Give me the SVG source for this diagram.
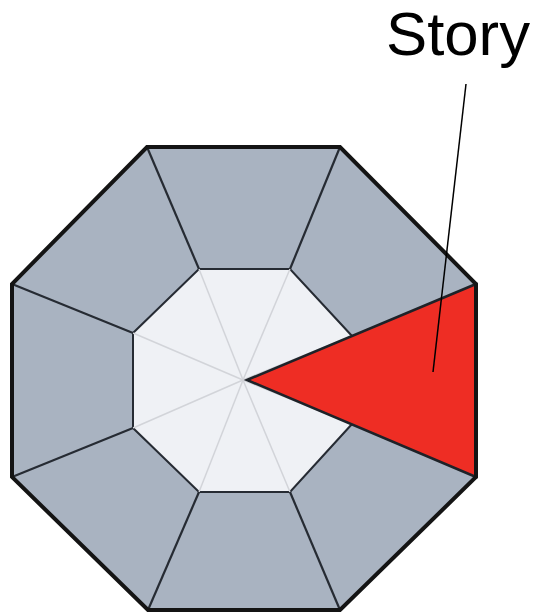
<svg xmlns="http://www.w3.org/2000/svg" width="533" height="614" viewBox="0 0 533 614">
<style>
.seg{fill:#a9b3c1;stroke:#262b33;stroke-width:2;stroke-linejoin:round}
.inner{fill:#eff1f5;stroke:#262b33;stroke-width:2}
.spoke{stroke:#d2d4d9;stroke-width:1.5}
.outer{fill:none;stroke:#141414;stroke-width:4;stroke-linejoin:miter}
.lbl{font-family:"Liberation Sans",Arial,sans-serif;fill:#000}
</style>
<rect width="533" height="614" fill="#fff"/>
<g id="ring">
<polygon class="seg" points="147,147 340,147 476,284 476,477 340,610 148,610 12,477 12,284"/>
</g>
<g id="core">
<polygon class="inner" points="199,269 290,269 352,336 352,424 290,492 199,492 133,428 133,333"/>
<g class="spoke">
<line x1="243" y1="380" x2="199" y2="269"/>
<line x1="243" y1="380" x2="290" y2="269"/>
<line x1="243" y1="380" x2="352" y2="336"/>
<line x1="243" y1="380" x2="352" y2="424"/>
<line x1="243" y1="380" x2="290" y2="492"/>
<line x1="243" y1="380" x2="199" y2="492"/>
<line x1="243" y1="380" x2="133" y2="428"/>
<line x1="243" y1="380" x2="133" y2="333"/>
</g>
</g>
<g id="dividers" stroke="#262b33" stroke-width="2.2">
<line x1="199" y1="269" x2="147" y2="147"/>
<line x1="290" y1="269" x2="340" y2="147"/>
<line x1="290" y1="492" x2="340" y2="610"/>
<line x1="199" y1="492" x2="148" y2="610"/>
<line x1="133" y1="428" x2="12" y2="477"/>
<line x1="133" y1="333" x2="12" y2="284"/>
</g>
<g id="story-wedge">
<polygon points="247,380 476,284 476,477" fill="#ee2d24" stroke="#1e2228" stroke-width="2.5" stroke-linejoin="miter"/>
</g>
<g id="outline">
<polygon class="outer" points="147,147 340,147 476,284 476,477 340,610 148,610 12,477 12,284"/>
</g>
<g id="connectors">
<line x1="466" y1="84" x2="433" y2="372" stroke="#000" stroke-width="1.5"/>
</g>
<g id="label">
<text class="lbl" x="386" y="55" font-size="61" textLength="144" lengthAdjust="spacingAndGlyphs">Story</text>
</g>
</svg>
